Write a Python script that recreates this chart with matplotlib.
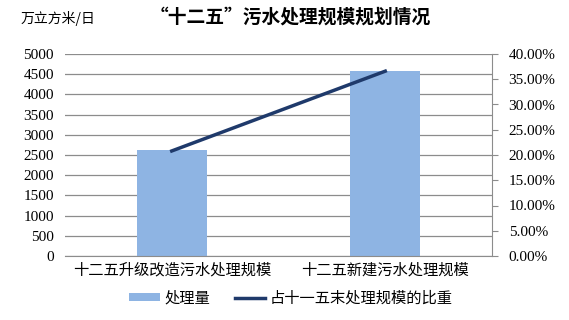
import matplotlib
matplotlib.use('Agg')
import matplotlib.pyplot as plt
from matplotlib.ticker import FuncFormatter

plt.rcParams['font.family'] = ['Liberation Serif', 'Noto Sans CJK SC']

categories = ['十二五升级改造污水处理规模', '十二五新建污水处理规模']
volume = [2620, 4570]
share = [0.208, 0.366]

fig = plt.figure(figsize=(5.69, 3.2), dpi=100)
ax = fig.add_axes([65 / 569, 1 - 256 / 320, 427 / 569, 202 / 320])
ax2 = ax.twinx()

x = range(len(categories))
ax.bar(x, volume, width=0.33, color='#8EB4E3', zorder=2, label='处理量')
ax.set_xlim(-0.5, 1.5)
ax.set_ylim(0, 5000)
ax.set_yticks(range(0, 5001, 500))
ax.yaxis.grid(True, color='#8c8c8c', linewidth=0.9, zorder=0)
ax.set_axisbelow(True)
ax.set_xticks(list(x))
ax.set_xticklabels(categories, family=['Noto Sans CJK SC'], fontsize=11)
ax.tick_params(axis='x', length=0, pad=4)
ax.tick_params(axis='y', length=0, labelsize=11, pad=8)
for s in ['top', 'left', 'right']:
    ax.spines[s].set_visible(False)
ax.spines['bottom'].set_color('#8c8c8c')

ln, = ax2.plot(x, share, color='#1F3A6B', linewidth=2.5, label='占十一五末处理规模的比重')
ax2.set_ylim(0, 0.4)
ax2.set_yticks([i * 0.05 for i in range(9)])
ax2.yaxis.set_major_formatter(FuncFormatter(lambda v, p: '%.2f%%' % (v * 100)))
ax2.tick_params(axis='y', direction='out', length=4, color='#8c8c8c', labelsize=11, pad=8)
for s in ['top', 'left', 'bottom']:
    ax2.spines[s].set_visible(False)
ax2.spines['right'].set_color('#8c8c8c')

fig.text(21 / 569, 1 - 18 / 320, '万立方米/日', family=['Noto Sans CJK SC'], fontsize=10, va='center')
fig.text(290 / 569, 1 - 17 / 320, '“十二五”污水处理规模规划情况', family=['Noto Sans CJK SC'],
         fontsize=13.5, fontweight='bold', ha='center', va='center')

h1, l1 = ax.get_legend_handles_labels()
fig.legend(h1 + [ln], l1 + [ln.get_label()], loc='center', bbox_to_anchor=(291 / 569, 1 - 298 / 320),
           ncol=2, frameon=False, prop={'family': 'Noto Sans CJK SC', 'size': 11},
           handlelength=2.0, handleheight=0.5, columnspacing=1.6, handletextpad=0.3)

fig.savefig('out.png', dpi=100)
